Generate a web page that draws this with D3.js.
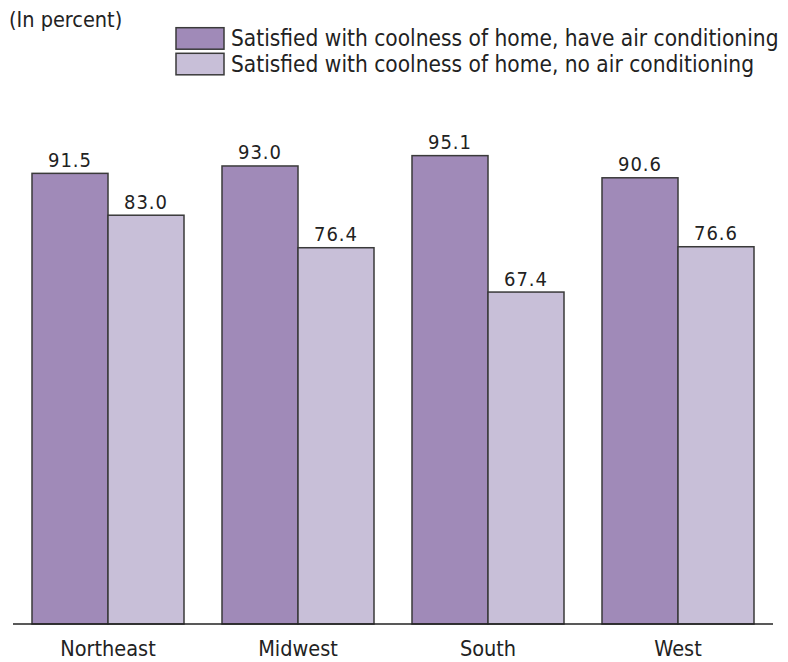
<!DOCTYPE html>
<html><head><meta charset="utf-8">
<script src="https://cdn.jsdelivr.net/npm/d3@7"></script>
<style>body{margin:0;background:#fff}svg{display:block}</style>
</head><body>
<script>
const regions = ["Northeast", "Midwest", "South", "West"];
const seriesNames = ["Satisfied with coolness of home, have air conditioning",
                     "Satisfied with coolness of home, no air conditioning"];
const haveAC = [91.5, 93.0, 95.1, 90.6];
const noAC = [83.0, 76.4, 67.4, 76.6];
const colors = ["#a08ab8", "#c8bfd8"];

const W = 788, H = 662;
const svg = d3.select("body").append("svg").attr("width", W).attr("height", H);
const font = "'DejaVu Sans Condensed', 'DejaVu Sans', sans-serif";

const y = d3.scaleLinear().domain([0, 100]).range([624, 131.5]);
const x0 = d3.scaleBand().domain(regions).range([13, 773]).paddingInner(0.2).paddingOuter(0.1);
const x1 = d3.scaleBand().domain([0, 1]).range([0, x0.bandwidth()]);

const data = regions.map((r, i) => ({region: r, vals: [haveAC[i], noAC[i]]}));

const g = svg.selectAll("g.grp").data(data).join("g")
  .attr("transform", d => `translate(${x0(d.region)},0)`);
g.selectAll("rect").data(d => d.vals).join("rect")
  .attr("x", (d, j) => x1(j)).attr("width", x1.bandwidth())
  .attr("y", d => y(d)).attr("height", d => y(0) - y(d))
  .attr("fill", (d, j) => colors[j]).attr("stroke", "#3a3a3a").attr("stroke-width", 1.5);
g.selectAll("text").data(d => d.vals).join("text")
  .attr("x", (d, j) => x1(j) + x1.bandwidth() / 2).attr("y", d => y(d) - 6.5)
  .attr("text-anchor", "middle").attr("font-family", font).attr("font-stretch", "condensed")
  .attr("font-size", 20).attr("letter-spacing", 1).attr("fill", "#222").text(d => d.toFixed(1));

// axis
const axis = svg.append("g").attr("transform", `translate(0,${y(0)})`)
  .call(d3.axisBottom(x0).tickSize(0).tickPadding(17));
axis.select(".domain").attr("d", `M13,0H773`).attr("stroke", "#222").attr("stroke-width", 1.5);
axis.selectAll("text").attr("font-family", font).attr("font-stretch", "condensed")
  .attr("font-size", 21.5).attr("fill", "#222");

// header
svg.append("text").attr("x", 9).attr("y", 27).attr("font-family", font).attr("font-stretch", "condensed")
  .attr("font-size", 21.5).attr("fill", "#222").text("(In percent)");

const leg = svg.append("g");
seriesNames.forEach((s, i) => {
  leg.append("rect").attr("x", 176).attr("y", 27.7 + i * 25.6).attr("width", 48).attr("height", 21.5)
    .attr("fill", colors[i]).attr("stroke", "#3a3a3a").attr("stroke-width", 1.5);
  leg.append("text").attr("x", 231).attr("y", 46 + i * 25.6).attr("font-family", font)
    .attr("font-stretch", "condensed").attr("font-size", 22.5).attr("fill", "#222").text(s);
});
</script>
</body></html>
